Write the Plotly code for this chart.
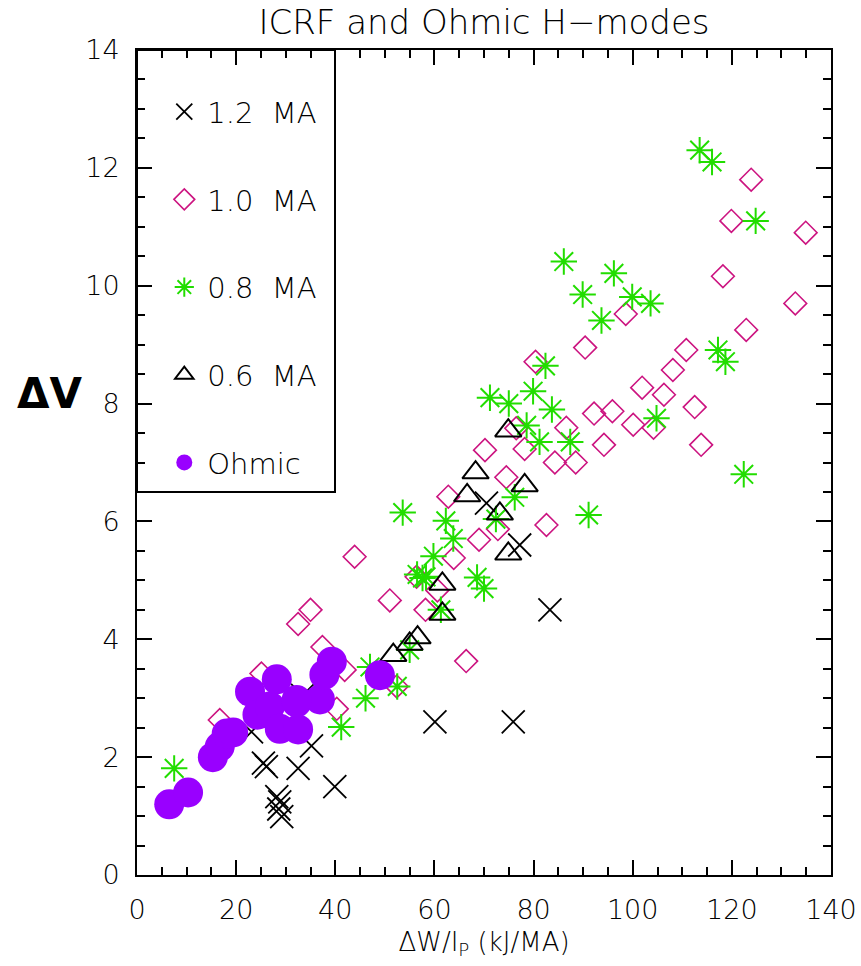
import plotly.graph_objects as go

# ---- data ----
ma12_x = [25.5, 26.1, 32.5, 35.2, 39.9, 28.2, 28.8, 29.2, 28.6, 60.1, 75.9, 83.3, 70.5, 77.2, 23.1, 33.4]
ma12_y = [1.90, 1.84, 1.81, 2.19, 1.50, 1.33, 1.24, 0.99, 1.12, 2.60, 2.60, 4.50, 6.31, 5.60, 2.43, 3.05]

ma10_x = [16.7, 25.1, 32.5, 35.0, 37.4, 41.9, 40.3, 43.9, 51.0, 52.4, 56.4, 58.2, 60.6, 62.8, 63.9,
          66.4, 69.0, 70.2, 72.8, 74.5, 76.5, 78.2, 80.4, 82.6, 84.3, 86.6, 88.5, 90.4, 92.2, 94.2,
          95.9, 98.6, 100.1, 101.9, 104.2, 106.3, 108.1, 110.8, 112.5, 113.8, 118.2, 119.9, 122.9,
          123.9, 132.8, 134.9]
ma10_y = [2.63, 3.42, 4.26, 4.50, 3.87, 3.48, 2.82, 5.40, 4.66, 3.20, 5.06, 4.50, 4.83, 6.42, 5.38,
          3.63, 5.69, 7.21, 5.87, 6.75, 7.58, 7.23, 8.71, 5.94, 7.00, 7.59, 7.00, 8.95, 7.83, 7.30,
          7.87, 9.52, 7.64, 8.27, 7.59, 8.15, 8.57, 8.91, 7.94, 7.30, 10.16, 11.10, 9.25,
          11.80, 9.70, 10.90]

ma08_x = [7.5, 41.2, 46.1, 47.0, 52.5, 55.0, 53.6, 56.5, 57.6, 58.3, 59.8, 61.3, 62.3, 63.8, 68.6,
          70.0, 71.2, 72.4, 75.0, 76.2, 78.6, 79.9, 81.2, 82.4, 83.7, 86.1, 87.4, 89.9, 91.1, 93.7,
          96.2, 99.9, 103.6, 104.8, 113.5, 116.0, 117.2, 118.7, 122.4, 124.8]
ma08_y = [1.81, 2.51, 3.00, 3.53, 3.20, 3.82, 6.15, 5.10, 5.04, 5.06, 5.41, 4.50, 6.01, 5.71, 5.05,
          4.86, 8.10, 6.04, 8.00, 6.41, 7.63, 8.21, 7.35, 8.64, 7.90, 10.41, 7.35, 9.85, 6.11, 9.41,
          10.21, 9.81, 9.70, 7.75, 12.30, 12.10, 8.91, 8.71, 6.80, 11.10]

ma06_x = [51.7, 55.0, 56.6, 61.6, 61.6, 66.6, 68.3, 73.2, 74.9, 74.9, 78.2]
ma06_y = [3.73, 3.92, 4.03, 4.43, 4.94, 6.44, 6.83, 6.13, 5.45, 7.54, 6.61]

ohm_x = [6.5, 10.3, 15.3, 16.7, 18.1, 19.4, 22.8, 24.3, 26.8, 28.2, 28.8, 32.2, 32.5, 36.9, 37.8,
         39.3, 49.0, 32.2]
ohm_y = [1.20, 1.40, 2.00, 2.18, 2.40, 2.42, 3.11, 2.72, 2.86, 3.32, 2.48, 2.93, 2.47, 2.98, 3.40,
         3.62, 3.39, 2.97]

series_names = ["1.2\u00a0\u00a0MA", "1.0\u00a0\u00a0MA", "0.8\u00a0\u00a0MA", "0.6\u00a0\u00a0MA", "Ohmic"]

FONT = "DejaVu Sans"

fig = go.Figure()

fig.add_trace(go.Scatter(x=ma12_x, y=ma12_y, mode="markers", name=series_names[0], legendgroup="a",
                         marker=dict(symbol="x-thin-open", size=23, color="black",
                                     line=dict(color="black", width=1.8))))
fig.add_trace(go.Scatter(x=ma10_x, y=ma10_y, mode="markers", name=series_names[1], legendgroup="b",
                         marker=dict(symbol="diamond-open", size=17.5, color="#cc1480",
                                     line=dict(color="#cc1480", width=1.6))))
fig.add_trace(go.Scatter(x=ma08_x, y=ma08_y, mode="markers", name=series_names[2], legendgroup="c",
                         marker=dict(symbol="asterisk-open", size=22, color="#22dd00",
                                     line=dict(color="#22dd00", width=2))))
fig.add_trace(go.Scatter(x=ma06_x, y=ma06_y, mode="markers", name=series_names[3], legendgroup="d",
                         marker=dict(symbol="triangle-up-open", size=23, color="black",
                                     line=dict(color="black", width=2))))
fig.add_trace(go.Scatter(x=ohm_x, y=ohm_y, mode="markers", name=series_names[4], legendgroup="e",
                         marker=dict(symbol="circle", size=30, color="#9900ff",
                                     line=dict(width=0))))

axis_common = dict(
    showline=True, linewidth=2, linecolor="black", mirror="ticks",
    ticks="inside", ticklen=15, tickwidth=1.5, tickcolor="black",
    showgrid=False, zeroline=False, ticklabelstandoff=10, automargin=False,
    tickfont=dict(size=27, color="black", family=FONT, weight=200),
)

fig.update_xaxes(range=[0, 140], dtick=20, tick0=0,
                 minor=dict(dtick=5, ticks="inside", ticklen=8, tickwidth=1.5, tickcolor="black"),
                 title=dict(text="ΔW/I<sub>P</sub> (kJ/MA)", standoff=8,
                            font=dict(size=26, color="black", family=FONT, weight=200)),
                 **axis_common)
fig.update_yaxes(range=[0, 14], dtick=2, tick0=0,
                 minor=dict(dtick=0.5, ticks="inside", ticklen=8, tickwidth=1.5, tickcolor="black"),
                 **axis_common)

fig.update_layout(
    width=861, height=966,
    margin=dict(l=137, r=30, t=50, b=91, autoexpand=False),
    paper_bgcolor="white", plot_bgcolor="white",
    font=dict(family=FONT, color="black"),
    title=dict(text="ICRF and Ohmic H−modes", x=(137 + 831) / 2 / 861, xanchor="center",
               y=1 - 22 / 966, yanchor="middle", yref="container",
               font=dict(size=34, color="black", family=FONT, weight=200)),
    showlegend=True,
    legend=dict(x=0.035, y=0.956, xanchor="left", yanchor="top",
                font=dict(size=29, color="black", family=FONT, weight=200),
                bgcolor="rgba(0,0,0,0)", borderwidth=0, itemwidth=36,
                traceorder="grouped", tracegroupgap=47, itemsizing="trace"),
    shapes=[dict(type="rect", xref="paper", yref="paper",
                 x0=0, x1=(335 - 137) / 694, y0=(875 - 492) / 825, y1=1,
                 line=dict(color="black", width=2), fillcolor="rgba(0,0,0,0)", layer="above")],
    annotations=[dict(text="<b>ΔV</b>", xref="paper", yref="paper",
                      x=(50 - 137) / 694, y=(875 - 393) / 825, xanchor="center", yanchor="middle",
                      showarrow=False, font=dict(size=42, color="black", family="DejaVu Sans"))],
)

fig.write_html("out.html")
